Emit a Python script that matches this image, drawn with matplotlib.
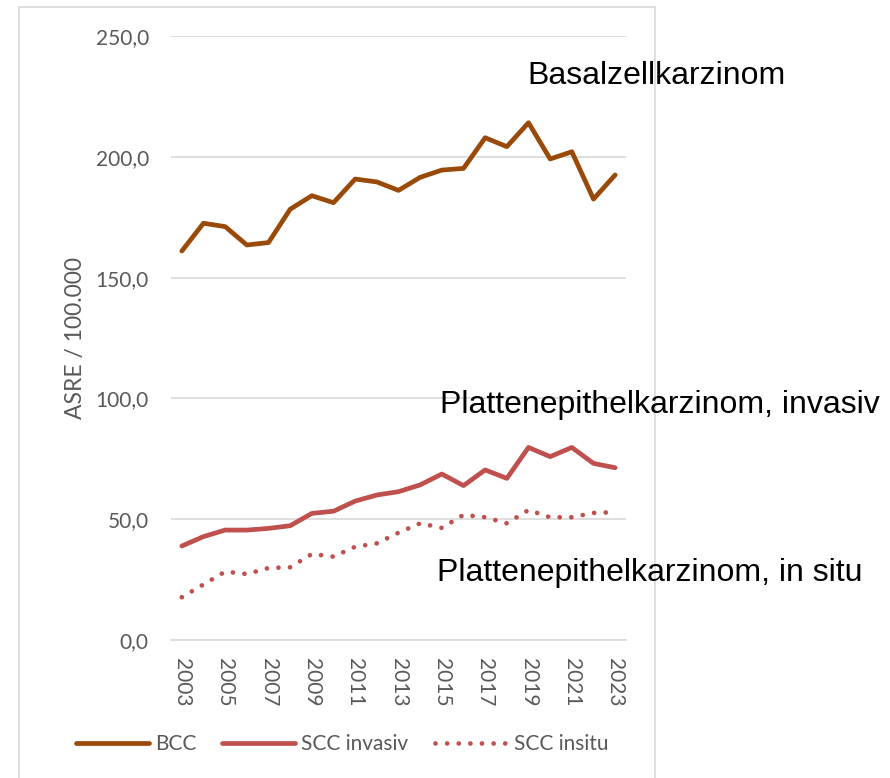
import numpy as np
import matplotlib.pyplot as plt
from matplotlib.patches import Rectangle

years = list(range(2003, 2024))
bcc = [161.0, 172.5, 171.1, 163.5, 164.5, 178.3, 183.9, 181.0, 190.8, 189.6, 186.1,
       191.5, 194.5, 195.2, 207.9, 204.2, 214.1, 199.1, 202.1, 182.5, 192.5]
scc_invasiv = [38.9, 42.8, 45.5, 45.5, 46.2, 47.3, 52.4, 53.3, 57.5, 60.0, 61.4,
               64.2, 68.7, 63.9, 70.4, 66.9, 79.7, 75.9, 79.7, 73.1, 71.3]
scc_insitu = [17.7, 23.0, 28.3, 27.3, 29.8, 30.1, 35.6, 34.5, 38.6, 40.0, 44.4,
              48.3, 46.4, 51.8, 50.8, 48.3, 53.8, 50.8, 50.8, 52.6, 52.9]
yticks = [0, 50, 100, 150, 200, 250]

c_bcc = '#9A4A08'
c_scc = '#C0504D'
grey = '#595959'
tick_font = 'Lato'
label_font = 'Liberation Sans'

W, H = 890, 778
fig = plt.figure(figsize=(W / 100, H / 100), dpi=100)
ax = fig.add_axes([171 / W, 1 - 640 / H, (626 - 171) / W, (640 - 36) / H])

x = np.arange(len(years))
ax.plot(x, bcc, color=c_bcc, lw=3.4, solid_capstyle='round', solid_joinstyle='round', label='BCC')
ax.plot(x, scc_invasiv, color=c_scc, lw=3.4, solid_capstyle='round', solid_joinstyle='round',
        label='SCC invasiv')
ax.plot(x, scc_insitu, color=c_scc, lw=3.4, linestyle=(0, (0.01, 2.45)), dash_capstyle='round',
        label='SCC insitu')

ax.set_xlim(-0.5, len(years) - 0.5)
ax.set_ylim(0, 250)
ax.set_yticks(yticks)
ax.set_yticklabels([f"{v:.1f}".replace('.', ',') for v in yticks],
                   fontsize=15, color=grey, fontfamily=tick_font)
ax.set_xticks(x[::2])
ax.set_xticklabels([str(y) for y in years[::2]], rotation=-90, fontsize=15, color=grey,
                   fontfamily=tick_font)
ax.tick_params(length=0)
ax.tick_params(axis='y', pad=16)
ax.tick_params(axis='x', pad=13)
ax.grid(axis='y', color='#D9D9D9', lw=1.2)
ax.set_axisbelow(True)
for s in ['top', 'right', 'left']:
    ax.spines[s].set_visible(False)
ax.spines['bottom'].set_color('#D9D9D9')
ax.spines['bottom'].set_linewidth(1.2)
ax.set_ylabel('ASRE / 100.000', fontsize=16.5, color=grey, fontfamily=tick_font, labelpad=7)

# chart border
fig.patches.append(Rectangle((19 / W, -0.05), (655 - 19) / W, 1.05 - 7 / H,
                             transform=fig.transFigure, fill=False, ec='#D9D9D9', lw=1.2))

# series annotations
fig.text(527 / W, 1 - 76 / H, 'Basalzellkarzinom', fontsize=23, fontfamily=label_font,
         va='center', ha='left')
fig.text(440 / W, 1 - 405 / H, 'Plattenepithelkarzinom, invasiv', fontsize=23,
         fontfamily=label_font, va='center', ha='left')
fig.text(437 / W, 1 - 573 / H, 'Plattenepithelkarzinom, in situ', fontsize=23,
         fontfamily=label_font, va='center', ha='left')

leg = fig.legend(loc='center', bbox_to_anchor=(342 / W, 1 - 744 / H), ncol=3, frameon=False,
                 handlelength=3.5, handletextpad=0.3, columnspacing=1.25,
                 prop={'family': tick_font, 'size': 15})
for t in leg.get_texts():
    t.set_color(grey)

fig.savefig('out.png', dpi=100)
